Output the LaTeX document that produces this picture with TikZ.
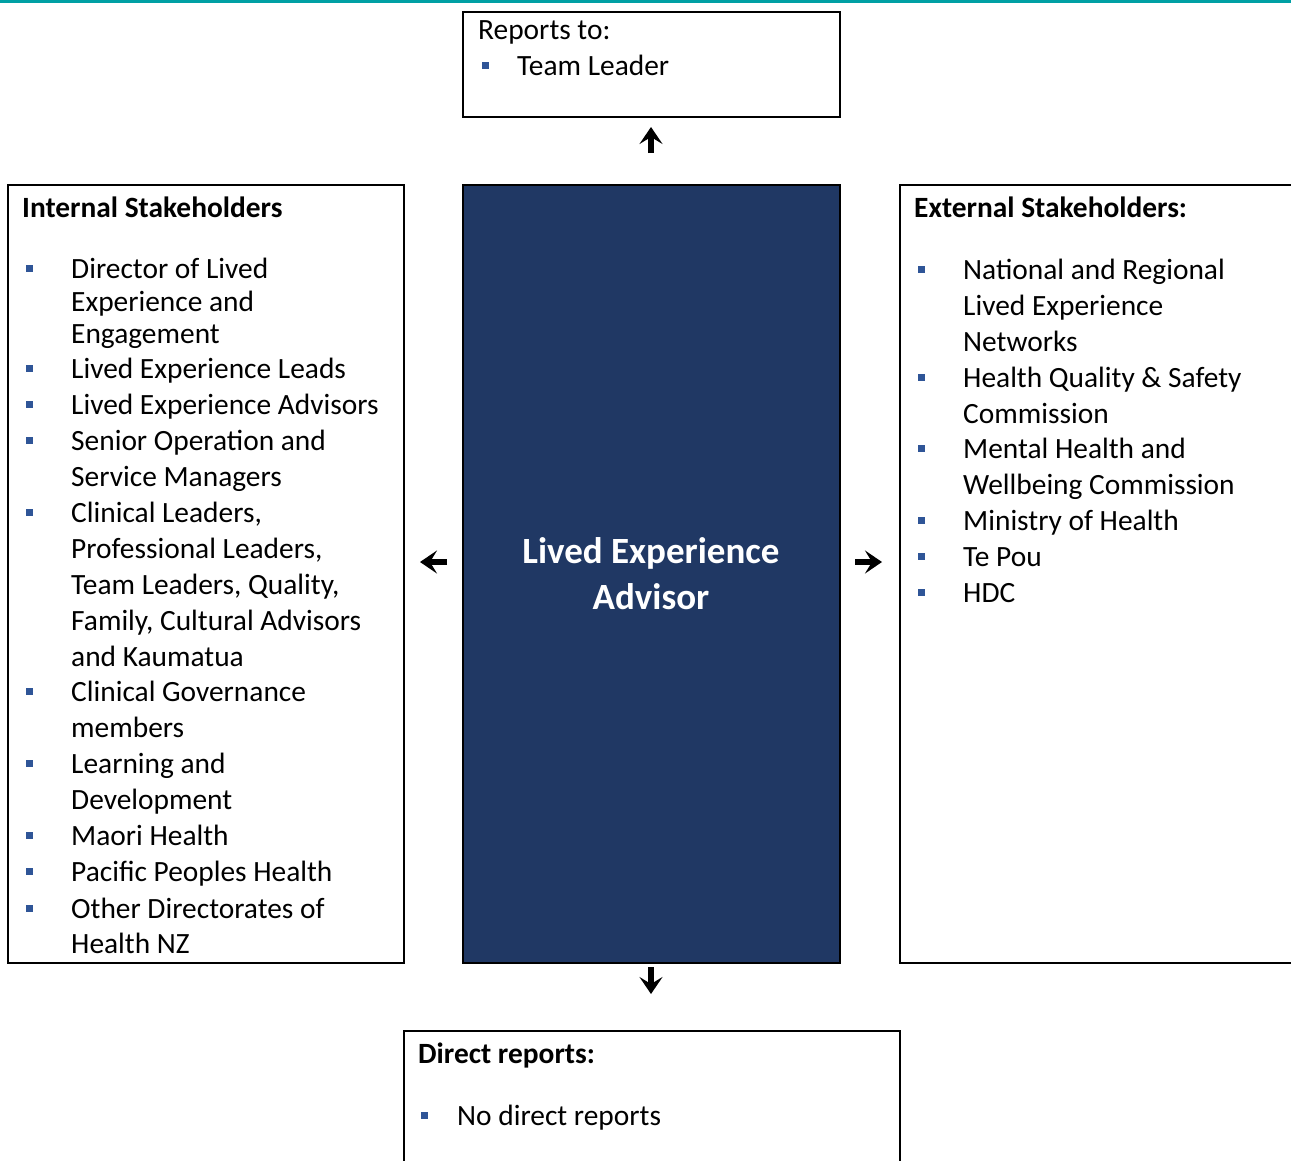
\documentclass[tikz,border=0pt]{standalone}
\usepackage{fontspec}
\setmainfont{Carlito}
\usetikzlibrary{arrows.meta}
\definecolor{navy}{RGB}{32,56,100}
\definecolor{bulletblue}{RGB}{47,85,151}
\definecolor{teal}{RGB}{0,160,164}
\tikzset{
  box/.style={draw=black, line width=2pt, inner sep=0pt, anchor=north west},
  item/.style={anchor=base west, inner sep=0pt, font=\fontsize{29.4}{36}\selectfont},
  head/.style={anchor=base west, inner sep=0pt, font=\bfseries\fontsize{29.4}{36}\selectfont},
  bul/.style={fill=bulletblue, minimum size=7pt, inner sep=0pt},
  arr/.style={line width=6pt, -{Stealth[length=17pt,width=23pt,inset=7pt]}}
}
\begin{document}
\begin{tikzpicture}[x=1pt,y=1pt]
\clip (0,0) rectangle (1291,-1160);
\fill[white] (0,0) rectangle (1291,-1160);
% rule along the top edge
\fill[teal] (0,0) rectangle (1291,-3);

% boxes
\node[box, minimum width=377pt, minimum height=105pt] (top) at (462,-11) {};
\node[box, fill=navy, minimum width=377pt, minimum height=778pt] (mid) at (462,-184) {};
\node[box, minimum width=396pt, minimum height=778pt] (int) at (7,-184) {};
\node[box, minimum width=420pt, minimum height=778pt] (ext) at (899,-184) {};
\node[box, minimum width=496pt, minimum height=160pt] (dir) at (403,-1030) {};

% reports to
\node[item] (rt) at (478,-39) {Reports to:};
\node[bul] (rtb) at (485,-65) {};
\node[item] (rt1) at (517,-75) {Team Leader};

% centre title
\node[text=white, align=center, font=\bfseries\fontsize{37}{46}\selectfont] (title) at (651,-574) {Lived Experience\\Advisor};

% internal stakeholders
\node[head] (inth) at (22,-217) {Internal Stakeholders};
\foreach \y/\t [count=\i] in {278/{Director of Lived},311/{Experience and},343/{Engagement},
  378/{Lived Experience Leads},414/{Lived Experience Advisors},450/{Senior Operation and},
  486/{Service Managers},522/{Clinical Leaders,},558/{Professional Leaders,},
  594/{Team Leaders, Quality,},630/{Family, Cultural Advisors},666/{and Kaumatua},
  701/{Clinical Governance},737/{members},773/{Learning and},809/{Development},
  845/{Maori Health},881/{Pacific Peoples Health},918/{Other Directorates of},953/{Health NZ}}
  \node[item] (int\i) at (71,-\y) {\t};
\foreach \y [count=\i] in {278,378,414,450,522,701,773,845,881,918}
  \node[bul] (intb\i) at (29,-\y+10) {};

% external stakeholders
\node[head] (exth) at (914,-217) {External Stakeholders:};
\foreach \y/\t [count=\i] in {279/{National and Regional},315/{Lived Experience},351/{Networks},
  387/{Health Quality \& Safety},423/{Commission},458/{Mental Health and},
  494/{Wellbeing Commission},530/{Ministry of Health},566/{Te Pou},602/{HDC}}
  \node[item] (ext\i) at (963,-\y) {\t};
\foreach \y [count=\i] in {279,387,458,530,566,602}
  \node[bul] (extb\i) at (921,-\y+10) {};

% direct reports
\node[head] (dirh) at (418,-1063) {Direct reports:};
\node[bul] (dirb) at (424,-1115) {};
\node[item] (dir1) at (457,-1125) {No direct reports};

% arrows
\coordinate (upS) at (651,-153);
\coordinate (upE) at (651,-127);
\coordinate (lfS) at (447,-562);
\coordinate (lfE) at (420,-562);
\coordinate (rtS) at (855,-562);
\coordinate (rtE) at (882,-562);
\coordinate (dnS) at (651,-967);
\coordinate (dnE) at (651,-994);
\draw[arr] (upS) -- (upE);
\draw[arr] (lfS) -- (lfE);
\draw[arr] (rtS) -- (rtE);
\draw[arr] (dnS) -- (dnE);
\end{tikzpicture}
\end{document}
